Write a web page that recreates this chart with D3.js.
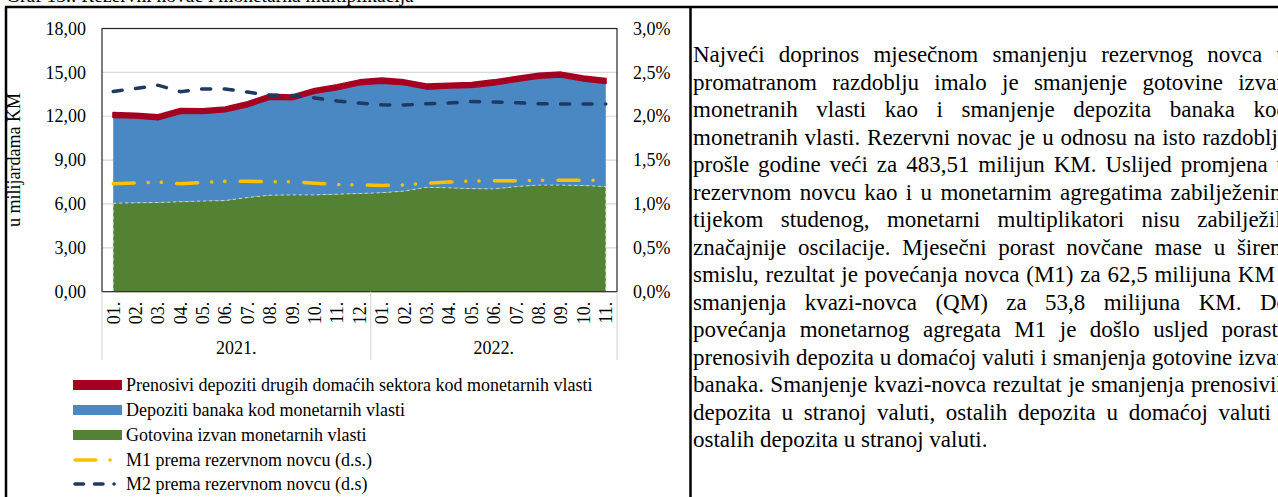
<!DOCTYPE html>
<html lang="en">
<head>
<meta charset="UTF-8">
<title>Rezervni novac i monetarna multiplikacija</title>
<style>
  body { margin: 0; background: #fff; }
  text { font-family: "Liberation Serif", "Times New Roman", serif; fill: #000; }
</style>
</head>
<body>
<script src="https://d3js.org/d3.v7.min.js"></script>
<div id="my_dataviz"></div>

<script>
var months = ["01.","02.","03.","04.","05.","06.","07.","08.","09.","10.","11.","12.",
              "01.","02.","03.","04.","05.","06.","07.","08.","09.","10.","11."];
var years = ["2021.", "2022."];
var yearCounts = [12, 11];

// u milijardama KM
var gotovina = [6.05,6.08,6.10,6.15,6.20,6.23,6.44,6.60,6.62,6.62,6.67,6.72,
                6.77,6.88,7.14,7.10,7.05,7.03,7.19,7.29,7.29,7.26,7.19];
var depozitiBanaka = [5.88,5.81,5.68,6.06,6.00,6.09,6.23,6.58,6.52,6.96,7.15,7.45,
                      7.51,7.29,6.73,6.84,6.94,7.13,7.21,7.33,7.41,7.17,7.07];
var prenosivi = [0.31,0.30,0.30,0.30,0.29,0.30,0.30,0.31,0.30,0.30,0.31,0.30,
                 0.31,0.30,0.31,0.30,0.30,0.31,0.30,0.31,0.30,0.31,0.30];
// desna skala (%)
var m1 = [1.23,1.24,1.25,1.23,1.245,1.258,1.258,1.253,1.253,1.237,1.222,1.218,
          1.21,1.218,1.237,1.25,1.261,1.266,1.266,1.269,1.269,1.269,1.269];
var m2 = [2.283,2.315,2.354,2.28,2.311,2.311,2.275,2.24,2.236,2.209,2.174,2.15,
          2.13,2.127,2.142,2.15,2.169,2.162,2.154,2.142,2.139,2.139,2.139];

var leftTicks = [0, 3, 6, 9, 12, 15, 18];
var rightTicks = [0, 0.5, 1, 1.5, 2, 2.5, 3];

var legendLabels = [
    "Prenosivi depoziti drugih domaćih sektora kod monetarnih vlasti",
    "Depoziti banaka kod monetarnih vlasti",
    "Gotovina izvan monetarnih vlasti",
    "M1 prema rezervnom novcu (d.s.)",
    "M2 prema rezervnom novcu (d.s)"
];

var paragraph = [
    "Najveći doprinos mjesečnom smanjenju rezervnog novca u",
    "promatranom razdoblju imalo je smanjenje gotovine izvan",
    "monetranih vlasti kao i smanjenje depozita banaka kod",
    "monetranih vlasti. Rezervni novac je u odnosu na isto razdoblje",
    "prošle godine veći za 483,51 milijun KM. Uslijed promjena u",
    "rezervnom novcu kao i u monetarnim agregatima zabilježenim",
    "tijekom studenog, monetarni multiplikatori nisu zabilježili",
    "značajnije oscilacije. Mjesečni porast novčane mase u širem",
    "smislu, rezultat je povećanja novca (M1) za 62,5 milijuna KM i",
    "smanjenja kvazi-novca (QM) za 53,8 milijuna KM. Do",
    "povećanja monetarnog agregata M1 je došlo usljed porasta",
    "prenosivih depozita u domaćoj valuti i smanjenja gotovine izvan",
    "banaka. Smanjenje kvazi-novca rezultat je smanjenja prenosivih",
    "depozita u stranoj valuti, ostalih depozita u domaćoj valuti i",
    "ostalih depozita u stranoj valuti."
];

var width = 1278, height = 497;
var plot = {left: 102, right: 617, top: 28.5, bottom: 291.7};
var colors = {red: "#a50021", blue: "#4a88c4", green: "#548235", yellow: "#ffc000", navy: "#1f3864"};

var svg = d3.select("#my_dataviz")
    .append("svg")
    .attr("width", width)
    .attr("height", height);

var x = d3.scaleBand().domain(d3.range(months.length)).range([plot.left, plot.right]);
var y = d3.scaleLinear().domain([0, 18]).range([plot.bottom, plot.top]);
var y2 = d3.scaleLinear().domain([0, 3]).range([plot.bottom, plot.top]);
var cx = function(i) { return x(i) + x.bandwidth() / 2; };

// gridlines
svg.selectAll("grid")
    .data(leftTicks.slice(1, -1))
    .enter()
    .append("line")
    .attr("x1", plot.left).attr("x2", plot.right)
    .attr("y1", function(d) { return y(d); })
    .attr("y2", function(d) { return y(d); })
    .attr("stroke", "#d9d9d9")
    .attr("stroke-width", 1.2);

// stacked areas
var table = months.map(function(m, i) {
    return {i: i, gotovina: gotovina[i], depozitiBanaka: depozitiBanaka[i], prenosivi: prenosivi[i]};
});
var stacked = d3.stack().keys(["gotovina", "depozitiBanaka", "prenosivi"])(table);
var areaColors = [colors.green, colors.blue, colors.red];

var area = d3.area()
    .x(function(d) { return cx(d.data.i); })
    .y0(function(d) { return y(d[0]); })
    .y1(function(d) { return y(d[1]); });

svg.selectAll("areas")
    .data(stacked)
    .enter()
    .append("path")
    .attr("d", area)
    .attr("fill", function(d, i) { return areaColors[i]; })
    .attr("stroke", function(d, i) { return i == 2 ? colors.red : "none"; })
    .attr("stroke-width", 2)
    .attr("stroke-linejoin", "round");

// dashed light edge of green area
svg.append("path")
    .datum(stacked[0])
    .attr("d", area)
    .attr("fill", "none")
    .attr("stroke", "#c9d8bf")
    .attr("stroke-width", 1)
    .attr("stroke-dasharray", "3,3");

// ratio lines
var lineM = function(vals) {
    return d3.line()
        .x(function(d, i) { return cx(i); })
        .y(function(d) { return y2(d); })(vals);
};

svg.append("path")
    .attr("d", lineM(m1))
    .attr("fill", "none")
    .attr("stroke", colors.yellow)
    .attr("stroke-width", 3.5)
    .attr("stroke-linecap", "round")
    .attr("stroke-dasharray", "21,14,0.1,13,0.1,15.4");

svg.append("path")
    .attr("d", lineM(m2))
    .attr("fill", "none")
    .attr("stroke", colors.navy)
    .attr("stroke-width", 3.5)
    .attr("stroke-linecap", "round")
    .attr("stroke-dasharray", "9,13.5");

// plot border
svg.append("rect")
    .attr("x", plot.left).attr("y", plot.top)
    .attr("width", plot.right - plot.left)
    .attr("height", plot.bottom - plot.top)
    .attr("fill", "none")
    .attr("stroke", "#262626")
    .attr("stroke-width", 1.2);

// axes
var comma = function(f) { return function(d) { return f(d).replace(".", ","); }; };

var yAxis = svg.append("g")
    .attr("transform", "translate(" + plot.left + ",0)")
    .call(d3.axisLeft(y).tickValues(leftTicks).tickSize(0).tickPadding(16)
        .tickFormat(comma(d3.format(".2f"))));

var yAxis2 = svg.append("g")
    .attr("transform", "translate(" + plot.right + ",0)")
    .call(d3.axisRight(y2).tickValues(rightTicks).tickSize(0).tickPadding(16)
        .tickFormat(function(d) { return comma(d3.format(".1f"))(d) + "%"; }));

var xAxis = svg.append("g")
    .attr("transform", "translate(0," + plot.bottom + ")")
    .call(d3.axisBottom(x).tickSize(0).tickFormat(function(i) { return months[i]; }));

[yAxis, yAxis2, xAxis].forEach(function(g) {
    g.select(".domain").remove();
    g.selectAll("text")
        .style("font-family", "'Liberation Serif', serif")
        .style("font-size", "18px")
        .attr("fill", "#000");
});

xAxis.selectAll("text")
    .attr("transform", "rotate(-90)")
    .attr("x", -10)
    .attr("y", 0)
    .attr("dy", "0.35em")
    .style("text-anchor", "end");

// year groups
var bounds = [0, yearCounts[0], months.length];
svg.selectAll("ysep")
    .data(bounds)
    .enter()
    .append("line")
    .attr("x1", function(d) { return d == months.length ? plot.right : x(d); })
    .attr("x2", function(d) { return d == months.length ? plot.right : x(d); })
    .attr("y1", plot.bottom)
    .attr("y2", 360)
    .attr("stroke", "#d9d9d9")
    .attr("stroke-width", 1.2);

svg.selectAll("ylab")
    .data(years)
    .enter()
    .append("text")
    .attr("x", function(d, i) {
        var a = bounds[i], b = bounds[i + 1];
        var xa = x(a), xb = b == months.length ? plot.right : x(b);
        return (xa + xb) / 2;
    })
    .attr("y", 354)
    .style("text-anchor", "middle")
    .style("font-size", "18px")
    .text(function(d) { return d; });

// axis title
svg.append("text")
    .attr("transform", "translate(20," + ((plot.top + plot.bottom) / 2) + ") rotate(-90)")
    .style("text-anchor", "middle")
    .style("font-size", "18px")
    .text("u milijardama KM");

// legend
var legendY = [385, 410, 435, 460, 484];
var leg = svg.selectAll("legend")
    .data(legendLabels)
    .enter()
    .append("g")
    .attr("transform", function(d, i) { return "translate(73," + legendY[i] + ")"; });

leg.filter(function(d, i) { return i < 3; })
    .append("rect")
    .attr("x", 0).attr("y", -5)
    .attr("width", 49).attr("height", 10)
    .attr("fill", function(d, i) { return areaColors[2 - i]; });

leg.filter(function(d, i) { return i == 3; })
    .append("path")
    .attr("d", "M2,0H47")
    .attr("stroke", colors.yellow)
    .attr("stroke-width", 3.5)
    .attr("stroke-linecap", "round")
    .attr("stroke-dasharray", "21,14,0.1,50");

leg.filter(function(d, i) { return i == 4; })
    .append("path")
    .attr("d", "M2,0H47")
    .attr("stroke", colors.navy)
    .attr("stroke-width", 3.5)
    .attr("stroke-linecap", "round")
    .attr("stroke-dasharray", "8.5,11,8.5,11,0.1,50");

leg.append("text")
    .attr("x", 53)
    .attr("dy", "0.35em")
    .style("font-size", "18px")
    .text(function(d) { return d; });

// frame
svg.append("line").attr("x1", 5).attr("x2", width).attr("y1", 7).attr("y2", 7)
    .attr("stroke", "#000").attr("stroke-width", 2.5);
svg.append("line").attr("x1", 6).attr("x2", 6).attr("y1", 7).attr("y2", height)
    .attr("stroke", "#000").attr("stroke-width", 2.5);
svg.append("line").attr("x1", 690.5).attr("x2", 690.5).attr("y1", 7).attr("y2", height)
    .attr("stroke", "#000").attr("stroke-width", 2.5);

// title (mostly cut off)
svg.append("text")
    .attr("x", 6).attr("y", 2)
    .style("font-size", "19.5px")
    .text("Graf 13.: Rezervni novac i monetarna multiplikacija");

// right column text, justified
var textLeft = 693, textRight = 1288;
svg.selectAll("para")
    .data(paragraph)
    .enter()
    .append("text")
    .attr("x", textLeft)
    .attr("y", function(d, i) { return 62 + i * 27.5; })
    .style("font-size", "23px")
    .text(function(d) { return d; })
    .each(function(d, i) {
        if (i == paragraph.length - 1) return;
        var w = this.getComputedTextLength();
        var gaps = d.split(" ").length - 1;
        d3.select(this).style("word-spacing", ((textRight - textLeft - w) / gaps) + "px");
    });
</script>
</body>
</html>
